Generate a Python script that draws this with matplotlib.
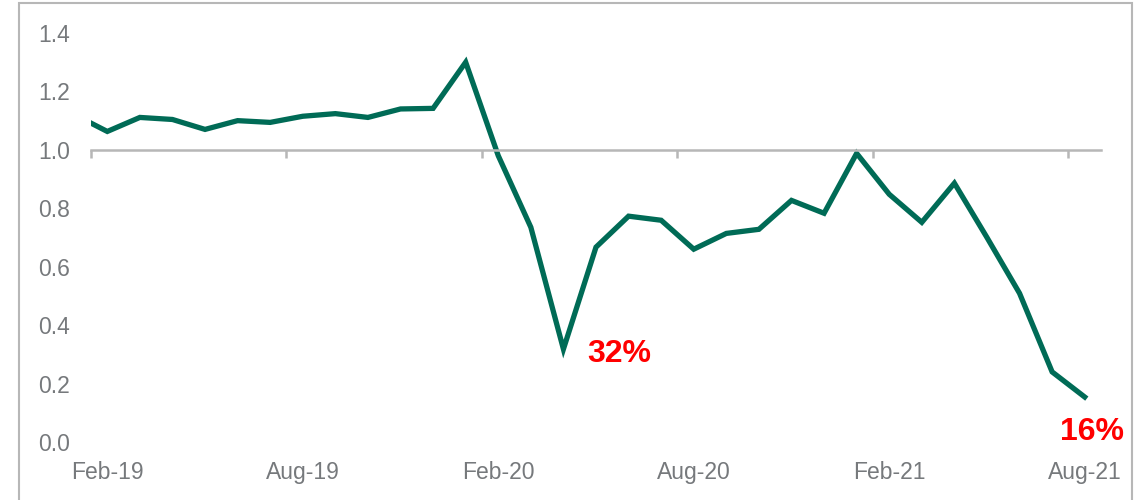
import numpy as np
import matplotlib.pyplot as plt
from matplotlib.patches import Rectangle

# -----------------------------------------------------------------------------
# Data (monthly, Jan-19 .. Aug-21; Jan-19 falls just outside the axis)
# -----------------------------------------------------------------------------
months = ["Jan-19",
          "Feb-19", "Mar-19", "Apr-19", "May-19", "Jun-19", "Jul-19",
          "Aug-19", "Sep-19", "Oct-19", "Nov-19", "Dec-19", "Jan-20",
          "Feb-20", "Mar-20", "Apr-20", "May-20", "Jun-20", "Jul-20",
          "Aug-20", "Sep-20", "Oct-20", "Nov-20", "Dec-20", "Jan-21",
          "Feb-21", "Mar-21", "Apr-21", "May-21", "Jun-21", "Jul-21",
          "Aug-21"]
values = [1.12,
          1.063, 1.111, 1.104, 1.070, 1.100, 1.094,
          1.115, 1.124, 1.111, 1.140, 1.142, 1.300,
          0.980, 0.735, 0.318, 0.667, 0.773, 0.759,
          0.660, 0.714, 0.728, 0.827, 0.783, 0.988,
          0.848, 0.752, 0.886, 0.700, 0.509, 0.240,
          0.154]
label_months = ["Feb-19", "Aug-19", "Feb-20", "Aug-20", "Feb-21", "Aug-21"]
y_ticks = [0.0, 0.2, 0.4, 0.6, 0.8, 1.0, 1.2, 1.4]
notes = [("Apr-20", "32%", 0.72, 0.274), ("Aug-21", "16%", -0.77, 0.007)]

LINE_COLOR = "#006B56"
GREY_TEXT = "#76797c"
GREY_LINE = "#b7b7b7"

plt.rcParams['font.family'] = ['Liberation Sans', 'DejaVu Sans']

x = np.arange(len(months)) - 1  # Feb-19 -> 0
pos = {m: i - 1 for i, m in enumerate(months)}

fig = plt.figure(figsize=(11.4, 5.0), dpi=100)
ax = fig.add_axes([91 / 1140, 58 / 500, 1010 / 1140, 409 / 500])

ax.plot(x, values, color=LINE_COLOR, lw=3.8, solid_joinstyle='miter')

ax.set_xlim(-0.5, 30.5)
ax.set_ylim(0, 1.4)

# y axis
ax.set_yticks(y_ticks)
ax.set_yticklabels(["%.1f" % v for v in y_ticks])
ax.tick_params(axis='y', length=0, pad=15, labelsize=16.5, labelcolor=GREY_TEXT)

# category axis line sits at 1.0, tick marks between months
for s in ['left', 'right', 'top']:
    ax.spines[s].set_visible(False)
ax.spines['bottom'].set_position(('data', 1.0))
ax.spines['bottom'].set_color(GREY_LINE)
ax.spines['bottom'].set_linewidth(1.8)
ax.set_xticks([pos[m] - 0.5 for m in label_months])
ax.set_xticklabels([])
ax.tick_params(axis='x', direction='out', length=6, width=1.8, color=GREY_LINE)

# month labels at bottom of plot
sec = ax.secondary_xaxis('bottom')
sec.set_xticks([pos[m] for m in label_months])
sec.set_xticklabels(label_months)
sec.tick_params(length=0, pad=14, labelsize=16.5, labelcolor=GREY_TEXT)
sec.spines['bottom'].set_visible(False)

# annotations
for m, txt, dx, yy in notes:
    ax.text(pos[m] + dx, yy, txt, color="#ff0000", fontsize=23,
            fontweight='bold', ha='left', va='baseline')

# chart frame (bottom edge runs off the image)
fig.patches.append(Rectangle((19 / 1140, -0.05), 1113 / 1140, 1.044,
                             transform=fig.transFigure, fill=False,
                             edgecolor=GREY_LINE, lw=1.5))

fig.savefig("out.png", dpi=100)
